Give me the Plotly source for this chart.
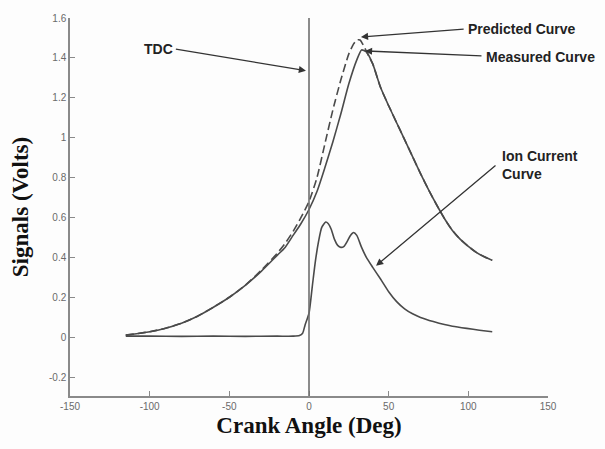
import plotly.graph_objects as go

# ---- data ----
measured_angle = [-115, -100, -90, -80, -70, -60, -50, -40, -30, -20, -15, -10, -5, 0, 5, 10, 15, 20, 25,
                  30, 33, 36, 40, 45, 50, 55, 60, 65, 70, 75, 80, 85, 90, 95, 100, 105, 110, 115]
measured_volts = [0.01, 0.027, 0.045, 0.07, 0.105, 0.15, 0.20, 0.26, 0.33, 0.41, 0.45, 0.51, 0.57, 0.64,
                  0.73, 0.85, 0.98, 1.12, 1.27, 1.39, 1.44, 1.43, 1.37, 1.25, 1.16, 1.075, 0.99, 0.905,
                  0.82, 0.74, 0.665, 0.595, 0.535, 0.49, 0.455, 0.425, 0.403, 0.385]

predicted_angle = [-115, -100, -90, -80, -70, -60, -50, -40, -30, -20, -15, -10, -5, 0, 5, 10, 15, 20, 25,
                   28, 30, 32, 35, 38, 40, 45, 50, 55, 60, 65, 70, 75, 80, 85, 90, 95, 100, 105, 110, 115]
predicted_volts = [0.01, 0.027, 0.045, 0.07, 0.105, 0.15, 0.20, 0.26, 0.335, 0.42, 0.47, 0.53, 0.60, 0.68,
                   0.80, 0.97, 1.14, 1.29, 1.42, 1.47, 1.49, 1.49, 1.45, 1.40, 1.37, 1.25, 1.16, 1.075,
                   0.99, 0.905, 0.82, 0.74, 0.665, 0.595, 0.535, 0.49, 0.455, 0.425, 0.403, 0.385]

ion_angle = [-115, -100, -80, -60, -40, -20, -10, -6, -4, -2.5, 0, 2, 4, 6, 8, 10.5, 12, 14, 16, 18, 20,
             22, 24, 26, 28, 30, 33, 36, 40, 45, 50, 55, 60, 65, 70, 78, 85, 90, 99, 107, 115]
ion_volts = [0.005, 0.005, 0.004, 0.005, 0.004, 0.005, 0.005, 0.008, 0.02, 0.06, 0.12, 0.25, 0.38, 0.48,
             0.55, 0.577, 0.57, 0.54, 0.49, 0.46, 0.45, 0.455, 0.48, 0.51, 0.525, 0.51, 0.45, 0.40,
             0.35, 0.29, 0.228, 0.178, 0.142, 0.117, 0.099, 0.078, 0.063, 0.055, 0.044, 0.035, 0.027]

x_ticks = [-150, -100, -50, 0, 50, 100, 150]
x_tick_labels = ["-150", "-100", "-50", "0", "50", "100", "150"]
y_ticks = [-0.2, 0, 0.2, 0.4, 0.6, 0.8, 1, 1.2, 1.4, 1.6]
y_tick_labels = ["-0.2", "0", "0.2", "0.4", "0.6", "0.8", "1", "1.2", "1.4", "1.6"]

tdc_angle = 0

curve_color = "#4a4a4a"
axis_color = "#8a8a8a"
text_color = "#222222"

fig = go.Figure()
fig.add_trace(go.Scatter(x=ion_angle, y=ion_volts, mode="lines", line=dict(color=curve_color, width=1.6, shape="spline", smoothing=0.6),
                         name="Ion Current Curve"))
fig.add_trace(go.Scatter(x=measured_angle, y=measured_volts, mode="lines", line=dict(color=curve_color, width=1.6, shape="spline", smoothing=0.6),
                         name="Measured Curve"))
fig.add_trace(go.Scatter(x=predicted_angle, y=predicted_volts, mode="lines",
                         line=dict(color=curve_color, width=1.6, dash="8px,4px", shape="spline", smoothing=0.6),
                         name="Predicted Curve"))

fig.add_shape(type="line", xref="x", yref="paper", x0=tdc_angle, x1=tdc_angle, y0=0, y1=1,
              line=dict(color="#6e6e6e", width=1.6))

font_lbl = dict(family="Liberation Sans, Arial", size=14, color=text_color)

def arrow(x_head, y_head, x_tail, y_tail):
    fig.add_annotation(x=x_head, y=y_head, ax=x_tail, ay=y_tail, xref="x", yref="y", axref="x", ayref="y",
                       text="", showarrow=True, arrowhead=2, arrowsize=1.1, arrowwidth=1.3,
                       arrowcolor="#333333", standoff=0)

def label(x, y, txt):
    fig.add_annotation(x=x, y=y, xref="x", yref="y", text=txt, showarrow=False, xanchor="left",
                       yanchor="middle", align="left", font=font_lbl)

arrow(-1.9, 1.336, -84.5, 1.445)
label(-105, 1.445, "<b>TDC</b>")
arrow(32.6, 1.505, 98.0, 1.545)
label(98.5, 1.545, "<b>Predicted Curve</b>")
arrow(35.1, 1.435, 109.2, 1.41)
label(109.8, 1.405, "<b>Measured Curve</b>")
arrow(42.1, 0.358, 118.0, 0.867)
label(119.9, 0.864, "<b>Ion Current<br>Curve</b>")

tick_font = dict(family="Liberation Sans, Arial", size=10, color="#6a6a6a")
title_font = dict(family="Liberation Serif, Times New Roman", size=23, color="#111111")

fig.update_layout(
    width=605, height=449,
    margin=dict(l=70, r=57, t=16, b=53),
    paper_bgcolor="#fdfdfd", plot_bgcolor="#fdfdfd",
    showlegend=False,
    xaxis=dict(range=[-150, 150], tickvals=x_ticks, ticktext=x_tick_labels, ticks="inside", ticklen=5,
               tickcolor=axis_color, showline=True, linecolor=axis_color, linewidth=1.5, showgrid=False,
               zeroline=False, tickfont=tick_font,
               title=dict(text="<b>Crank Angle (Deg)</b>", font=title_font, standoff=6)),
    yaxis=dict(range=[-0.295, 1.6], tickvals=y_ticks, ticktext=y_tick_labels, ticks="inside", ticklen=5,
               tickcolor=axis_color, showline=True, linecolor=axis_color, linewidth=1.5, showgrid=False,
               zeroline=False, tickfont=tick_font,
               title=dict(text="<b>Signals (Volts)</b>", font=title_font, standoff=14)),
)

fig.write_html("out.html")
